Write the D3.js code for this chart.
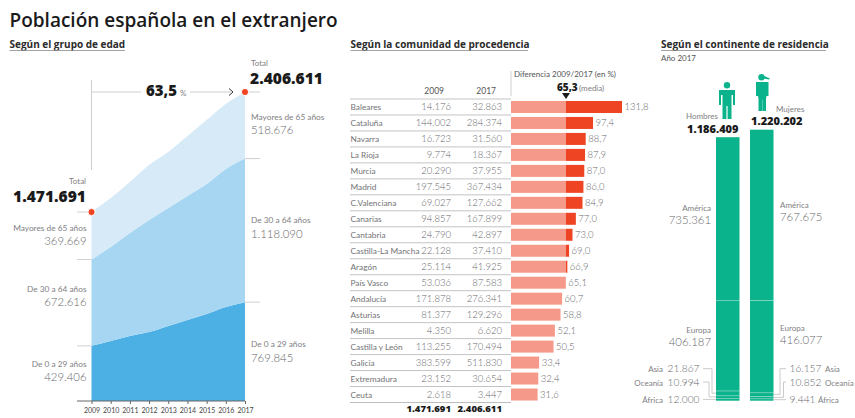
<!DOCTYPE html>
<html><head><meta charset="utf-8">
<script src="https://cdn.jsdelivr.net/npm/d3@7/dist/d3.min.js"></script>
<style>
html,body{margin:0;padding:0;background:#fff}
svg{display:block}
text{font-family:Lato,sans-serif;fill:#808083;font-weight:400}
.n{font-weight:300;fill:#68686b}
.h1{font-family:"Open Sans",sans-serif;font-weight:600;font-size:19px;fill:#1a1a1a}
.h2{font-family:"Open Sans",sans-serif;font-weight:700;font-size:10px;fill:#2b2b2b}
.big{font-family:"Open Sans",sans-serif;font-weight:800;fill:#1a1a1a}
</style></head><body>
<svg id="c" width="855" height="418"></svg>
<script>
// Age-group series, 2009-2017
const years=[2009,2010,2011,2012,2013,2014,2015,2016,2017];
const age0to29=[429406,467000,506000,537000,584000,631000,678000,732000,769845];
const age30to64=[672616,732000,802000,873000,919000,966000,1012000,1075000,1118090];
const age65plus=[369669,382000,398000,428000,436000,467000,498000,506000,518676];
const ageNames=["De 0 a 29 años","De 30 a 64 años","Mayores de 65 años"];
const ageColors=["#4db0e5","#a6d6f2","#d6eaf7"];
const totals=[1471691,2406611];
const growthPct="63,5";

// Residents by region of origin
const regions=["Baleares","Cataluña","Navarra","La Rioja","Murcia","Madrid","C.Valenciana","Canarias","Cantabria","Castilla-La Mancha","Aragón","País Vasco","Andalucía","Asturias","Melilla","Castilla y León","Galicia","Extremadura","Ceuta"];
const pop2009=[14176,144002,16723,9774,20290,197545,69027,94857,24790,22128,25114,53036,171878,81377,4350,113255,383599,23152,2618];
const pop2017=[32863,284374,31560,18367,37955,367434,127662,167899,42897,37410,41925,87583,276341,129296,6620,170494,511830,30654,3447];
const diffPct=[131.8,97.4,88.7,87.9,87.0,86.0,84.9,77.0,73.0,69.0,66.9,65.1,60.7,58.8,52.1,50.5,33.4,32.4,31.6];
const diffMean=65.3;

// Residents by continent, bottom of the stack first
const continents=["África","Oceanía","Asia","Europa","América"];
const men=[12000,10994,21867,406187,735361];
const women=[9441,10852,16157,416077,767675];
const menTotal=1186409, womenTotal=1220202;

const es=d3.formatLocale({decimal:",",thousands:".",grouping:[3],currency:["","€"]});
const num=es.format(",d"), dec=es.format(",.1f");
const svg=d3.select("#c");

function txt(x,y,s,size,anchor,cls,fill){
  const t=svg.append("text").attr("x",x).attr("y",y).attr("font-size",size).attr("text-anchor",anchor||"start").text(s);
  if(cls)t.attr("class",cls);
  if(fill)t.style("fill",fill);
  return t;
}
function rule(x1,y1,x2,y2,c,w){
  svg.append("line").attr("x1",x1).attr("y1",y1).attr("x2",x2).attr("y2",y2).attr("stroke",c||"#cfcfcf").attr("stroke-width",w||1);
}

txt(9.5,26.5,"Población española en el extranjero",19,"start","h1");
function heading(x,x2,s){txt(x,48,s,10,"start","h2");rule(x,50.5,x2,50.5,"#8a8a8a",.8);}
heading(9.5,125,"Según el grupo de edad");
heading(350.5,528,"Según la comunidad de procedencia");
heading(661,826,"Según el continente de residencia");

// ---- stacked area by age ----
const xA=d3.scalePoint().domain(years).range([91.5,245]);
const yA=d3.scaleLinear().domain([0,2406611]).range([401,92]);
const rows=years.map((y,i)=>({year:y,a:age0to29[i],b:age30to64[i],c:age65plus[i]}));
const stacked=d3.stack().keys(["a","b","c"])(rows);
const area=d3.area().x(d=>xA(d.data.year)).y0(d=>yA(d[0])).y1(d=>yA(d[1])).curve(d3.curveMonotoneX);
svg.append("g").selectAll("path").data(stacked).join("path").attr("d",area).attr("fill",(d,i)=>ageColors[i]);

const axis=d3.axisBottom(xA).tickSize(3).tickPadding(4).tickFormat(d3.format("d"));
const ax=svg.append("g").attr("transform","translate(0,401)").call(axis);
ax.select(".domain").attr("stroke","#666").attr("d","M77,0H245");
ax.selectAll("line").attr("stroke","#666");
ax.selectAll("text").attr("font-size",7).style("fill","#444");

// guide stubs at each layer boundary
[0,1,2].forEach(i=>{
  rule(77,yA(stacked[i][0][1]),91.5,yA(stacked[i][0][1]));
  rule(245,yA(stacked[i][8][1]),260,yA(stacked[i][8][1]));
});

// growth arrow between the two totals
rule(91.5,80,91.5,170);
rule(91.5,92,141,92);
rule(190,92,231,92);
svg.append("path").attr("d","M229,88.5L233,92L229,95.5").attr("fill","none").attr("stroke","#333").attr("stroke-width",1);
txt(146,96,growthPct,15,"start","big");
txt(180,96,"%",8,"start");
[[91.5,yA(totals[0])],[245,yA(totals[1])]].forEach(p=>{
  svg.append("circle").attr("cx",p[0]).attr("cy",p[1]).attr("r",3.6).attr("fill","#ef4423").attr("stroke","#fff").attr("stroke-width",1);
});
txt(251,66,"Total",8,"start");
txt(250,84,num(totals[1]),15.6,"start","big");
txt(86,184,"Total",8,"end");
txt(86,202,num(totals[0]),15.6,"end","big");

// age labels, left and right of the area
const leftY=[[367,381],[292,306],[231,245]];
const rightY=[[347,362],[223,238],[120,134]];
ageNames.forEach((n,i)=>{
  txt(86.5,leftY[i][0],n,8.3,"end");
  txt(86.5,leftY[i][1],num([age0to29,age30to64,age65plus][i][0]),11.4,"end","n");
  txt(251,rightY[i][0],n,8.3,"start");
  txt(251,rightY[i][1],num([age0to29,age30to64,age65plus][i][8]),11.4,"start","n");
});

// ---- table by region ----
const yT=d3.scaleBand().domain(regions).range([99,402.5]);
const xT=d3.scaleLinear().domain([0,131.8]).range([511,622]);
txt(444,94,"2009",8.5,"end",null,"#555");
txt(496,94,"2017",8.5,"end",null,"#555");
rule(511,71,511,96);
txt(514,77,"Diferencia 2009/2017 (en %)",8,"start",null,"#555");
txt(557,90.5,dec(diffMean),10,"start","big");
txt(579,90.5,"(media)",8,"start");
const tx=xT(diffMean);
svg.append("path").attr("d",d3.line()([[tx-4,93],[tx+4,93],[tx,99]])+"Z").attr("fill","#1a1a1a");

regions.forEach((r,i)=>{
  const y=yT(r), h=yT.bandwidth(), cy=y+h/2;
  rule(350,y,511,y,"#c4c4c4",1);
  txt(350.5,cy+3,r,8.3,"start",null,"#737376");
  txt(451,cy+3,num(pop2009[i]),9.5,"end","n");
  txt(502,cy+3,num(pop2017[i]),9.5,"end","n");
  const v=diffPct[i];
  svg.append("rect").attr("x",xT(0)).attr("y",cy-6).attr("height",12).attr("width",xT(Math.min(v,diffMean))-xT(0)).attr("fill","#f5998a");
  if(v>diffMean)svg.append("rect").attr("x",xT(diffMean)).attr("y",cy-6).attr("height",12).attr("width",xT(v)-xT(diffMean)).attr("fill","#ef4423");
  txt(xT(v)+2.5,cy+3.5,dec(v),9.5,"start","n");
});
rule(350,402.5,511,402.5,"#bdbdbd",1);
txt(451,412,num(totals[0]),9.5,"end","big");
txt(502,412,num(totals[1]),9.5,"end","big");

// ---- stacked columns by continent ----
txt(661,61,"Año 2017",8,"start",null,"#555");
const yC=d3.scaleLinear().domain([0,womenTotal]).range([400.7,129.7]);
const teal="#0bb38c";
function column(x,w,vals){
  let acc=0;
  vals.forEach(v=>{
    const y0=yC(acc), y1=yC(acc+v);
    svg.append("rect").attr("x",x).attr("y",y1).attr("width",w).attr("height",y0-y1).attr("fill",teal);
    if(acc+v<menTotal*0.9)svg.append("line").attr("x1",x).attr("x2",x+w).attr("y1",y1).attr("y2",y1).attr("stroke","#e8f5f1").attr("stroke-width",.8);
    acc+=v;
  });
}
column(716,23.5,men);
column(750,23.5,women);

// pictograms above the columns
function man(cx,top){
  const g=svg.append("g").attr("transform",`translate(${cx},${top})`).attr("fill",teal);
  g.append("circle").attr("cx",0).attr("cy",3.2).attr("r",3.2);
  g.append("path").attr("d","M-8,8H8V23H6V13H4.5V37H.6V24H-.6V37H-4.5V13H-6V23H-8Z");
}
function woman(cx,top){
  const g=svg.append("g").attr("transform",`translate(${cx},${top})`).attr("fill",teal);
  g.append("circle").attr("cx",-1.5).attr("cy",3.2).attr("r",3.2);
  g.append("path").attr("d","M0,1.5L7,4.5L6,5.5L0,4.5Z");
  g.append("path").attr("d","M-7,8H5.5V22H3.5L3,25V37H-.6V26H-.9V37H-4.5V25L-5,22H-7Z");
}
man(727,82);
woman(763,74);

txt(718,119,"Hombres",8,"end");
txt(687,132.5,num(menTotal),11,"start","big");
txt(776,112,"Mujeres",8,"start");
txt(751,124.5,num(womenTotal),11,"start","big");

txt(711,211,continents[4],8,"end");
txt(711,224,num(men[4]),11.4,"end","n");
txt(780,208,continents[4],8,"start");
txt(780,221,num(women[4]),11.4,"start","n");
txt(711,333,continents[3],8,"end");
txt(711,346,num(men[3]),11.4,"end","n");
txt(780,331,continents[3],8,"start");
txt(780,344,num(women[3]),11.4,"start","n");

// small continents get leader lines to their slices
const smallY=[399.5,382,368.7];
const rightNameX=[818,825,825];
const leftNameX=[663,663,663];
[0,1,2].forEach(i=>{
  const sumM=d3.sum(men.slice(0,i))+men[i]/2, sumW=d3.sum(women.slice(0,i))+women[i]/2;
  const elbowL=[703,709,712][i], elbowR=[786,783.5,780][i];
  const yl=smallY[i];
  svg.append("path").attr("fill","none").attr("stroke","#c4c4c4").attr("stroke-width",.9)
    .attr("d",d3.line()([[703,yl],[elbowL,yl],[elbowL,yC(sumM)],[716,yC(sumM)]]));
  svg.append("path").attr("fill","none").attr("stroke","#c4c4c4").attr("stroke-width",.9)
    .attr("d",d3.line()([[786,yl],[elbowR,yl],[elbowR,yC(sumW)],[773.5,yC(sumW)]]));
  txt(699.5,yl+3.5,num(men[i]),10.2,"end","n");
  txt(789.5,yl+3.5,num(women[i]),10.2,"start","n");
  txt(leftNameX[i],yl+3.5,continents[i],8,"end");
  txt(rightNameX[i],yl+3.5,continents[i],8,"start");
});
</script></body></html>
